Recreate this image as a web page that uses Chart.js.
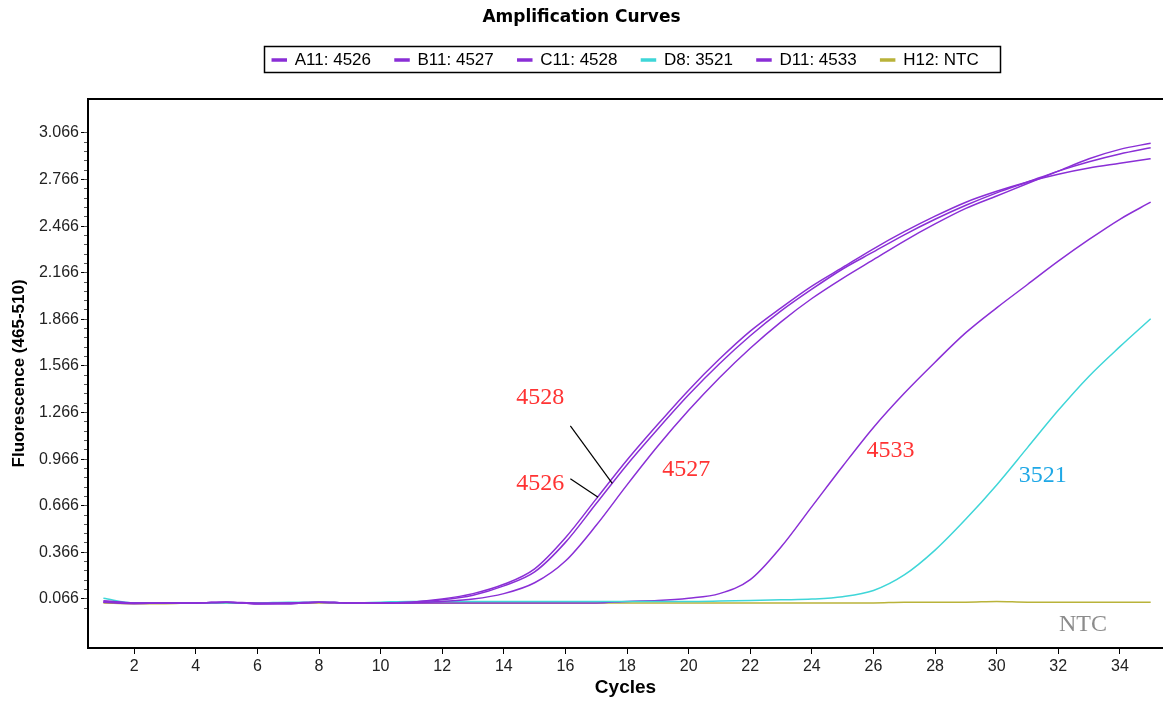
<!DOCTYPE html>
<html>
<head>
<meta charset="utf-8">
<script src="https://cdn.jsdelivr.net/npm/chart.js@4.4.1/dist/chart.umd.min.js"></script>
<style>
html, body { margin: 0; padding: 0; background: #fff; }
</style>
</head>
<body>
<canvas id="myChart" width="1163" height="701"></canvas>
<script>
// cycles 1..35
var cycles = [1,2,3,4,5,6,7,8,9,10,11,12,13,14,15,16,17,18,19,20,21,22,23,24,25,26,27,28,29,30,31,32,33,34,35];

var a11 = [0.050,0.040,0.040,0.040,0.045,0.035,0.035,0.045,0.040,0.040,0.045,0.060,0.090,0.150,0.240,0.430,0.680,0.930,1.160,1.380,1.580,1.760,1.920,2.060,2.190,2.300,2.410,2.510,2.600,2.680,2.750,2.820,2.880,2.930,2.970];
var b11 = [0.045,0.035,0.040,0.040,0.045,0.040,0.040,0.045,0.040,0.040,0.040,0.050,0.065,0.100,0.170,0.310,0.540,0.800,1.050,1.280,1.490,1.680,1.850,2.000,2.130,2.250,2.370,2.480,2.580,2.660,2.740,2.820,2.900,2.960,3.000];
var c11 = [0.055,0.040,0.040,0.040,0.045,0.035,0.040,0.045,0.040,0.040,0.045,0.065,0.100,0.160,0.260,0.460,0.710,0.960,1.190,1.410,1.610,1.790,1.940,2.080,2.200,2.320,2.430,2.530,2.620,2.690,2.750,2.800,2.840,2.870,2.900];
var d8  = [0.070,0.040,0.040,0.040,0.040,0.040,0.045,0.045,0.040,0.045,0.050,0.050,0.050,0.050,0.050,0.050,0.050,0.050,0.050,0.050,0.052,0.055,0.060,0.065,0.080,0.120,0.220,0.380,0.580,0.800,1.040,1.280,1.500,1.690,1.870];
var d11 = [0.045,0.040,0.040,0.040,0.045,0.035,0.035,0.045,0.040,0.040,0.040,0.040,0.040,0.040,0.040,0.040,0.040,0.050,0.055,0.070,0.100,0.190,0.400,0.660,0.920,1.170,1.390,1.590,1.780,1.940,2.090,2.240,2.380,2.510,2.620];
var h12 = [0.040,0.035,0.035,0.040,0.040,0.040,0.040,0.040,0.040,0.040,0.040,0.040,0.040,0.040,0.040,0.040,0.040,0.040,0.040,0.040,0.040,0.040,0.040,0.040,0.040,0.040,0.045,0.045,0.045,0.050,0.045,0.045,0.045,0.045,0.045];

var seriesNames = ['A11: 4526', 'B11: 4527', 'C11: 4528', 'D8: 3521', 'D11: 4533', 'H12: NTC'];
var seriesColors = ['#8a2fd6', '#8a2fd6', '#8a2fd6', '#3fd6d8', '#8a2fd6', '#b9b33a'];

var xTicks = [2,4,6,8,10,12,14,16,18,20,22,24,26,28,30,32,34];
var yTicks = [0.066,0.366,0.666,0.966,1.266,1.566,1.866,2.166,2.466,2.766,3.066];
var yMinorTicks = [];
for (var k = 0; k <= 51; k++) yMinorTicks.push(0.006 + k * 0.06);

// text labels placed in data units
var notes = [
  { text: '4528', x: 15.18, y: 1.36, color: '#ff3333' },
  { text: '4526', x: 15.18, y: 0.81, color: '#ff3333' },
  { text: '4527', x: 19.92, y: 0.90, color: '#ff3333' },
  { text: '4533', x: 26.55, y: 1.02, color: '#ff3333' },
  { text: '3521', x: 31.50, y: 0.86, color: '#1fa8e6' },
  { text: 'NTC',  x: 32.80, y: -0.10, color: '#8c8c8c' }
];
var leaders = [
  { x1: 16.16, y1: 1.18, x2: 17.52, y2: 0.81 },
  { x1: 16.16, y1: 0.84, x2: 17.06, y2: 0.72 }
];

var allSeries = [a11, b11, c11, d8, d11, h12];
var datasets = allSeries.map(function (s, i) {
  return {
    label: seriesNames[i],
    data: s.map(function (v, j) { return { x: cycles[j], y: v }; }),
    borderColor: seriesColors[i],
    backgroundColor: seriesColors[i],
    borderWidth: 1.5,
    pointRadius: 0,
    cubicInterpolationMode: 'monotone'
  };
});

var extras = {
  id: 'extras',
  afterDatasetsDraw: function (chart) {
    var ctx = chart.ctx;
    var x = chart.scales.x, y = chart.scales.y;
    ctx.save();
    ctx.strokeStyle = '#000';
    ctx.lineWidth = 1.2;
    leaders.forEach(function (l) {
      ctx.beginPath();
      ctx.moveTo(x.getPixelForValue(l.x1), y.getPixelForValue(l.y1));
      ctx.lineTo(x.getPixelForValue(l.x2), y.getPixelForValue(l.y2));
      ctx.stroke();
    });
    ctx.font = '24px "Liberation Serif", "Times New Roman", serif';
    ctx.textAlign = 'center';
    ctx.textBaseline = 'middle';
    notes.forEach(function (n) {
      ctx.fillStyle = n.color;
      ctx.fillText(n.text, x.getPixelForValue(n.x), y.getPixelForValue(n.y));
    });
    ctx.restore();
  },
  afterDraw: function (chart) {
    var boxes = chart.legend.legendHitBoxes;
    if (!boxes || !boxes.length) return;
    var l = Infinity, r = -Infinity, t = Infinity, b = -Infinity;
    boxes.forEach(function (h) {
      l = Math.min(l, h.left); r = Math.max(r, h.left + h.width);
      t = Math.min(t, h.top); b = Math.max(b, h.top + h.height);
    });
    var ctx = chart.ctx;
    ctx.save();
    ctx.strokeStyle = '#000';
    ctx.lineWidth = 1.5;
    ctx.strokeRect(Math.round(l - 8) + 0.5, Math.round(t - 5) + 0.5, Math.round(r - l + 30), Math.round(b - t + 9));
    ctx.restore();
  }
};

var ctx = document.getElementById('myChart').getContext('2d');
var chart = new Chart(ctx, {
  type: 'line',
  data: { datasets: datasets },
  options: {
    responsive: false,
    animation: false,
    layout: { padding: 0 },
    plugins: {
      title: {
        display: true,
        text: 'Amplification Curves',
        color: '#000',
        font: { family: '"DejaVu Sans", Verdana, sans-serif', size: 17, weight: 'bold' },
        padding: { top: 7, bottom: 0 }
      },
      legend: {
        fullSize: false,
        labels: {
          boxWidth: 14,
          boxHeight: 2,
          padding: 24,
          color: '#000',
          font: { family: '"Liberation Sans", Arial, sans-serif', size: 17 }
        }
      },
      tooltip: { enabled: false }
    },
    scales: {
      x: {
        type: 'linear',
        min: 0.5,
        max: 35.4,
        afterBuildTicks: function (s) { s.ticks = xTicks.map(function (v) { return { value: v }; }); },
        afterFit: function (s) { s.height = 53; },
        ticks: {
          color: '#222',
          padding: 3,
          font: { family: '"Liberation Sans", Arial, sans-serif', size: 16 }
        },
        grid: { drawOnChartArea: false, drawTicks: true, tickLength: 6, color: '#000' },
        border: { display: true, color: '#000', width: 2 },
        title: {
          display: true,
          text: 'Cycles',
          color: '#000',
          padding: { top: 0, bottom: 2 },
          font: { family: '"Liberation Sans", Arial, sans-serif', size: 19, weight: 'bold' }
        }
      },
      xTop: {
        type: 'linear',
        position: 'top',
        min: 0.5,
        max: 35.4,
        ticks: { display: false },
        grid: { display: false, drawTicks: false },
        border: { display: true, color: '#000', width: 2 },
        afterFit: function (s) { s.height = 20.5; }
      },
      y: {
        type: 'linear',
        weight: 1,
        min: -0.25,
        max: 3.285,
        afterBuildTicks: function (s) { s.ticks = yTicks.map(function (v) { return { value: v }; }); },
        afterFit: function (s) { s.width = 88; },
        ticks: {
          color: '#222',
          padding: 2,
          font: { family: '"Liberation Sans", Arial, sans-serif', size: 16 },
          callback: function (v) { return v.toFixed(3); }
        },
        grid: { drawOnChartArea: false, drawTicks: true, tickLength: 7, color: '#000' },
        border: { display: true, color: '#000', width: 2 },
        title: {
          display: true,
          text: 'Fluorescence (465-510)',
          color: '#000',
          padding: { top: 9, bottom: 0 },
          font: { family: '"Liberation Sans", Arial, sans-serif', size: 17, weight: 'bold' }
        }
      },
      yMinor: {
        type: 'linear',
        position: 'left',
        weight: 0,
        min: -0.25,
        max: 3.285,
        afterBuildTicks: function (s) { s.ticks = yMinorTicks.map(function (v) { return { value: v }; }); },
        afterFit: function (s) { s.width = 0; },
        ticks: { display: false },
        grid: { drawOnChartArea: false, drawTicks: true, tickLength: 4, color: '#555' },
        border: { display: false }
      }
    }
  },
  plugins: [extras]
});
</script>
</body>
</html>
